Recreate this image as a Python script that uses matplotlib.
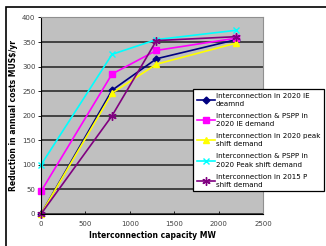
import matplotlib
matplotlib.use("Agg")
import matplotlib.pyplot as plt
from matplotlib.patches import Rectangle

capacity = [0, 800, 1300, 2200]
s_ie = [0, 252, 316, 355]
s_pspp_ie = [46, 285, 333, 358]
s_peak = [0, 246, 305, 348]
s_pspp_peak = [100, 325, 355, 374]
s_2015 = [0, 200, 353, 361]

labels = ["Interconnection in 2020 IE\ndeamnd",
          "Interconnection & PSPP in\n2020 IE demand",
          "Interconnection in 2020 peak\nshift demand",
          "Interconnection & PSPP in\n2020 Peak shift demand",
          "Interconnection in 2015 P\nshift demand"]
xticks = [0, 500, 1000, 1500, 2000, 2500]
yticks = [0, 50, 100, 150, 200, 250, 300, 350, 400]

W, H = 326, 246
fig = plt.figure(figsize=(W/100, H/100), dpi=100)
fig.patch.set_facecolor("white")

# outer frame
fig.patches.append(Rectangle((6/W, -0.1), 1.2, 1 - 7/H + 0.1, transform=fig.transFigure,
                             fill=False, edgecolor="black", linewidth=1.2))

ax = fig.add_axes([41/W, 1 - 214/H, 222/W, (214-17.5)/H])
ax.set_facecolor("#C0C0C0")
for sp in ax.spines.values():
    sp.set_color("#909090")
    sp.set_linewidth(0.8)
ax.spines["left"].set_color("black")
ax.spines["bottom"].set_color("black")

ax.set_xlim(0, 2500)
ax.set_ylim(0, 400)
ax.set_xticks(xticks)
ax.set_yticks(yticks)
ax.grid(axis="y", color="#202020", linewidth=1.1)
ax.set_axisbelow(True)
ax.tick_params(axis="both", labelsize=5, colors="black", length=2, width=0.6, pad=2,
               labelcolor="#404040")
ax.tick_params(axis="x", direction="in", pad=5)

series = [
    (s_ie, "#000080", "D", 3.5, "#000080"),
    (s_pspp_ie, "#FF00FF", "s", 5, "#FF00FF"),
    (s_peak, "#FFFF00", "^", 5, "#FFFF00"),
    (s_pspp_peak, "#00FFFF", "x", 5, "#00FFFF"),
    (s_2015, "#800080", (6, 2, 0), 6, "#800080"),
]
handles = []
for (vals, col, mk, ms, mc), lab in zip(series, labels):
    h, = ax.plot(capacity, vals, color=col, linewidth=1.2, marker=mk, markersize=ms,
                 markerfacecolor=mc, markeredgecolor=mc, markeredgewidth=1.0, label=lab,
                 clip_on=False)
    handles.append(h)

ax.set_xlabel("Interconnection capacity MW", fontsize=5.5, fontweight="bold", labelpad=3)
ax.set_ylabel("Reduction in annual costs MUS$/yr", fontsize=5.5, fontweight="bold", labelpad=3)

leg = fig.legend(handles=handles, loc="upper left", bbox_to_anchor=(193/W, 1 - 89/H),
                 fontsize=5.1, frameon=True, fancybox=False, borderpad=0.5,
                 labelspacing=0.85, handlelength=2.6, handletextpad=0.15,
                 borderaxespad=0)
for t in leg.get_texts():
    t.set_linespacing(1.45)
leg.get_frame().set_edgecolor("black")
leg.get_frame().set_linewidth(0.9)
leg.get_frame().set_facecolor("white")
leg.get_frame().set_alpha(1)

fig.savefig("out.png", dpi=100)
